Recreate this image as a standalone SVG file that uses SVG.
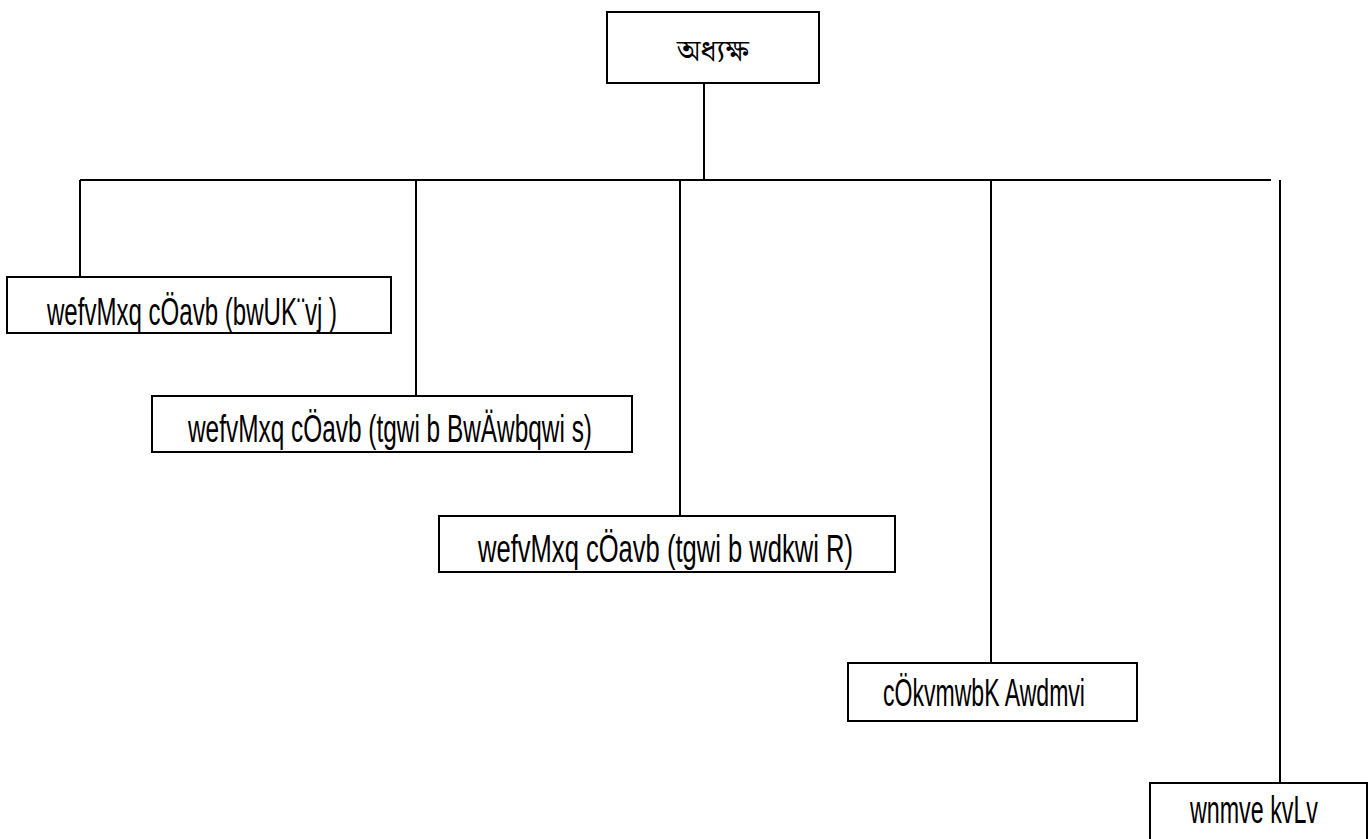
<svg xmlns="http://www.w3.org/2000/svg" width="1369" height="839" viewBox="0 0 1369 839">
<style>
.box{fill:#fff;stroke:#000;stroke-width:2}
.ln{stroke:#000;stroke-width:2;fill:none}
.t{font-family:"Liberation Sans Narrow","Liberation Sans",Arial,sans-serif;font-size:38px;fill:#000}
.bn{font-family:"Noto Serif Bengali","Noto Sans Bengali","Lohit Bengali","FreeSerif","Noto Sans",serif;font-size:31px;fill:#000}
</style>
<rect width="1369" height="839" fill="#fff"/>
<g id="connectors">
<line class="ln" x1="704" y1="83" x2="704" y2="180"/>
<line class="ln" x1="80" y1="180" x2="1271" y2="180"/>
<line class="ln" x1="80" y1="180" x2="80" y2="277"/>
<line class="ln" x1="416" y1="180" x2="416" y2="396"/>
<line class="ln" x1="680" y1="180" x2="680" y2="516"/>
<line class="ln" x1="991" y1="180" x2="991" y2="663"/>
<line class="ln" x1="1280" y1="180" x2="1280" y2="783"/>
</g>
<g id="node-principal">
<rect class="box" x="607" y="12" width="212" height="71"/>
<text class="bn" x="713" y="61" text-anchor="middle">অধ্যক্ষ</text>
</g>
<g id="node-textile">
<rect class="box" x="7" y="277" width="384" height="56"/>
<text class="t" x="47" y="325" textLength="290" lengthAdjust="spacingAndGlyphs">wefvMxq cÖavb (bwUK¨vj )</text>
</g>
<g id="node-marine-eng">
<rect class="box" x="152" y="396" width="480" height="56"/>
<text class="t" x="188" y="442" textLength="404" lengthAdjust="spacingAndGlyphs">wefvMxq cÖavb (tgwi b BwÄwbqwi s)</text>
</g>
<g id="node-marine-fish">
<rect class="box" x="439" y="516" width="456" height="56"/>
<text class="t" x="478" y="562" textLength="375" lengthAdjust="spacingAndGlyphs">wefvMxq cÖavb (tgwi b wdkwi R)</text>
</g>
<g id="node-admin">
<rect class="box" x="848" y="663" width="289" height="58"/>
<text class="t" x="883" y="706" textLength="202" lengthAdjust="spacingAndGlyphs">cÖkvmwbK Awdmvi</text>
</g>
<g id="node-accounts">
<rect class="box" x="1150" y="783" width="217" height="57"/>
<text class="t" x="1190" y="823" textLength="128" lengthAdjust="spacingAndGlyphs">wnmve kvLv</text>
</g>
</svg>
